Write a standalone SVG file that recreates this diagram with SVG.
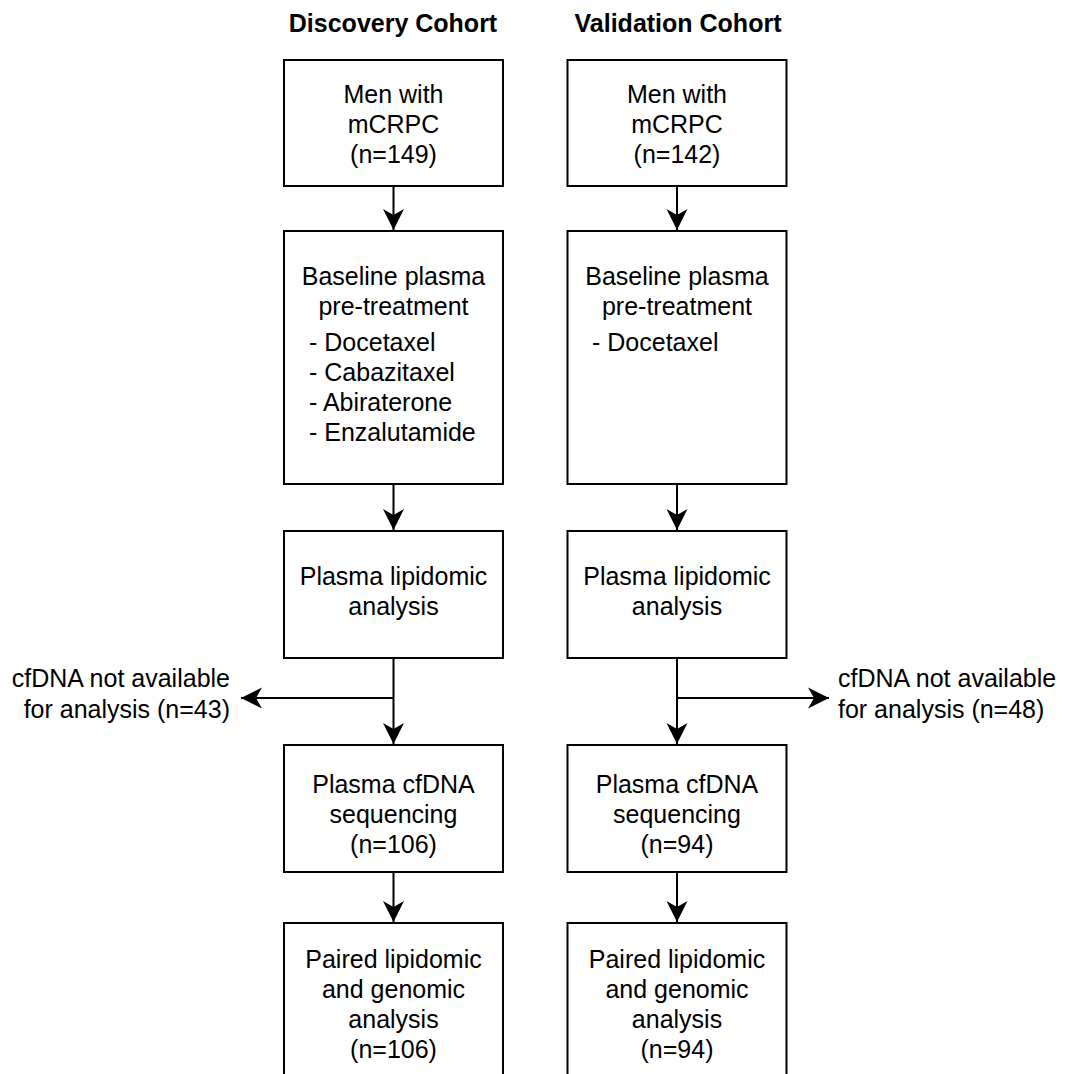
<svg xmlns="http://www.w3.org/2000/svg" width="1066" height="1074" viewBox="0 0 1066 1074">
<style>
.box{fill:#fff;stroke:#000;stroke-width:2}
.t{font-family:"Liberation Sans",Arial,sans-serif;font-size:25px;fill:#000}
.c{text-anchor:middle}
.h{font-weight:bold}
.e{text-anchor:end}
.conn line{stroke:#000;stroke-width:2}
</style>
<defs>
<marker id="arr" markerUnits="userSpaceOnUse" viewBox="-22 -11 23 22" refX="0" refY="0" markerWidth="23" markerHeight="22" orient="auto">
<path d="M0,0 L-21,-10.5 L-15,0 L-21,10.5 Z" fill="#000"/>
</marker>
</defs>
<rect width="1066" height="1074" fill="#fff"/>
<g id="titles">
<text class="t c h" x="393" y="32">Discovery Cohort</text>
<text class="t c h" x="678" y="32">Validation Cohort</text>
</g>
<g id="d1"><rect class="box" x="284" y="60" width="219" height="126"/>
<text class="t c" x="393.5" y="103">Men with</text><text class="t c" x="393.5" y="133">mCRPC</text><text class="t c" x="393.5" y="163">(n=149)</text></g>
<g id="d2"><rect class="box" x="284" y="231" width="219" height="253"/>
<text class="t c" x="393.5" y="285">Baseline plasma</text><text class="t c" x="393.5" y="315">pre-treatment</text>
<text class="t" x="309" y="351">- Docetaxel</text><text class="t" x="309" y="381">- Cabazitaxel</text><text class="t" x="309" y="411">- Abiraterone</text><text class="t" x="309" y="441">- Enzalutamide</text></g>
<g id="d3"><rect class="box" x="284" y="531" width="219" height="127"/>
<text class="t c" x="393.5" y="585">Plasma lipidomic</text><text class="t c" x="393.5" y="615">analysis</text></g>
<g id="d4"><rect class="box" x="284" y="745" width="219" height="127"/>
<text class="t c" x="393.5" y="793">Plasma cfDNA</text><text class="t c" x="393.5" y="823">sequencing</text><text class="t c" x="393.5" y="853">(n=106)</text></g>
<g id="d5"><rect class="box" x="284" y="923" width="219" height="170"/>
<text class="t c" x="393.5" y="968">Paired lipidomic</text><text class="t c" x="393.5" y="998">and genomic</text><text class="t c" x="393.5" y="1028">analysis</text><text class="t c" x="393.5" y="1058">(n=106)</text></g>
<g id="dx"><text class="t e" x="230" y="687">cfDNA not available</text><text class="t e" x="230" y="718">for analysis (n=43)</text></g>

<g id="v1"><rect class="box" x="567.5" y="60" width="219" height="126"/>
<text class="t c" x="677" y="103">Men with</text><text class="t c" x="677" y="133">mCRPC</text><text class="t c" x="677" y="163">(n=142)</text></g>
<g id="v2"><rect class="box" x="567.5" y="231" width="219" height="253"/>
<text class="t c" x="677" y="285">Baseline plasma</text><text class="t c" x="677" y="315">pre-treatment</text>
<text class="t" x="592" y="351">- Docetaxel</text></g>
<g id="v3"><rect class="box" x="567.5" y="531" width="219" height="127"/>
<text class="t c" x="677" y="585">Plasma lipidomic</text><text class="t c" x="677" y="615">analysis</text></g>
<g id="v4"><rect class="box" x="567.5" y="745" width="219" height="127"/>
<text class="t c" x="677" y="793">Plasma cfDNA</text><text class="t c" x="677" y="823">sequencing</text><text class="t c" x="677" y="853">(n=94)</text></g>
<g id="v5"><rect class="box" x="567.5" y="923" width="219" height="170"/>
<text class="t c" x="677" y="968">Paired lipidomic</text><text class="t c" x="677" y="998">and genomic</text><text class="t c" x="677" y="1028">analysis</text><text class="t c" x="677" y="1058">(n=94)</text></g>
<g id="vx"><text class="t" x="838" y="687">cfDNA not available</text><text class="t" x="838" y="718">for analysis (n=48)</text></g>

<g id="connectors" class="conn">
<line x1="393.5" y1="187" x2="393.5" y2="230" marker-end="url(#arr)"/>
<line x1="393.5" y1="485" x2="393.5" y2="530" marker-end="url(#arr)"/>
<line x1="393.5" y1="659" x2="393.5" y2="744" marker-end="url(#arr)"/>
<line x1="393.5" y1="698" x2="241" y2="698" marker-end="url(#arr)"/>
<line x1="393.5" y1="873" x2="393.5" y2="922" marker-end="url(#arr)"/>
<line x1="677" y1="187" x2="677" y2="230" marker-end="url(#arr)"/>
<line x1="677" y1="485" x2="677" y2="530" marker-end="url(#arr)"/>
<line x1="677" y1="659" x2="677" y2="744" marker-end="url(#arr)"/>
<line x1="677" y1="698" x2="829" y2="698" marker-end="url(#arr)"/>
<line x1="677" y1="873" x2="677" y2="922" marker-end="url(#arr)"/>
</g>
</svg>
